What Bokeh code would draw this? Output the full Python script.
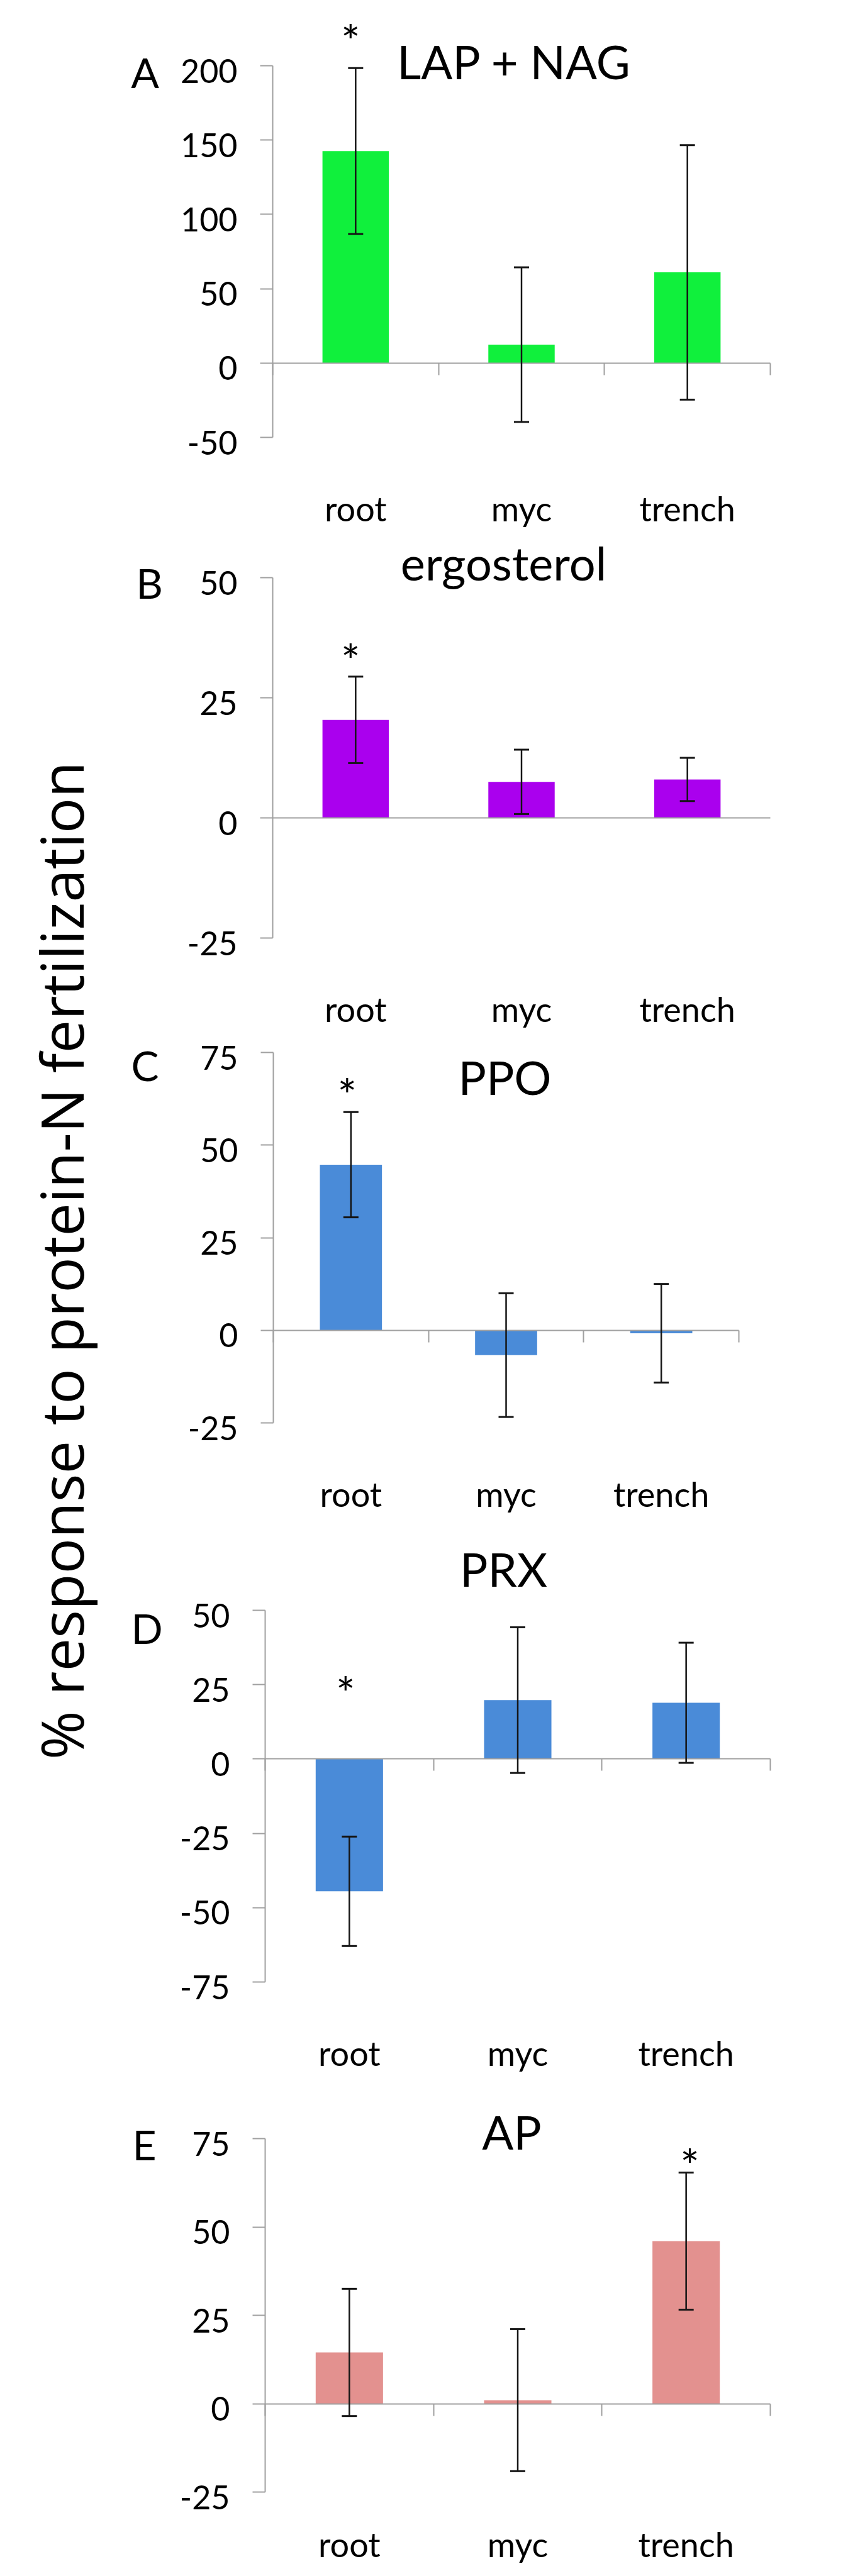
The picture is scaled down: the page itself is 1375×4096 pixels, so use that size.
import math
from bokeh.plotting import figure
from bokeh.models import (ColumnDataSource, Range1d, LinearAxis, FixedTicker,
                          Whisker, TeeHead, Label)
from bokeh.layouts import row, column
from bokeh.embed import file_html
from bokeh.resources import INLINE

# ---------------- data ----------------
categories = ["root", "myc", "trench"]
panel_letters = ["A", "B", "C", "D", "E"]
panel_titles = ["LAP + NAG", "ergosterol", "PPO", "PRX", "AP"]
y_label = "% response to protein-N fertilization"

lap_nag_mean = [142.6, 12.4, 61.0]
lap_nag_err = [55.8, 52.0, 85.6]
ergosterol_mean = [20.4, 7.5, 8.0]
ergosterol_err = [9.0, 6.7, 4.5]
ppo_mean = [44.7, -6.7, -0.8]
ppo_err = [14.2, 16.7, 13.3]
prx_mean = [-44.5, 19.8, 18.9]
prx_err = [18.4, 24.5, 20.2]
ap_mean = [14.5, 1.0, 46.0]
ap_err = [18.0, 20.1, 19.4]

lap_nag_ticks = [-50, 0, 50, 100, 150, 200]
ergosterol_ticks = [-25, 0, 25, 50]
ppo_ticks = [-25, 0, 25, 50, 75]
prx_ticks = [-75, -50, -25, 0, 25, 50]
ap_ticks = [-25, 0, 25, 50, 75]

# significance marker: (category index, height of the "*" in data units)
lap_nag_sig = (0, 228.6)
ergosterol_sig = (0, 36.4)
ppo_sig = (0, 68.3)
prx_sig = (0, 28.1)
ap_sig = (2, 72.5)

# ---------------- style / layout ----------------
AXIS_GRAY = "#a0a0a0"
TEXT_FONT = "Lato"
LABEL_W = 170
PANEL_W = 1189
TOTAL_H = 4080
TICK_LABEL_DROP = 8   # px: tick labels sit slightly below their ticks

panels = [
    dict(mean=lap_nag_mean, err=lap_nag_err, ticks=lap_nag_ticks, sig=lap_nag_sig,
         color="#10f03c", h=842, top=104, bottom=147, left=263, right=135,
         title_px=(384, 598), letter_px=(-203, 581), cat_ticks=True, star_dx=-8,
         cat_standoff=80),
    dict(mean=ergosterol_mean, err=ergosterol_err, ticks=ergosterol_ticks, sig=ergosterol_sig,
         color="#aa00ee", h=795, top=76, bottom=146, left=263, right=135,
         title_px=(367, 597), letter_px=(-196, 565), cat_ticks=False, star_dx=-8,
         cat_standoff=80),
    dict(mean=ppo_mean, err=ppo_err, ticks=ppo_ticks, sig=ppo_sig,
         color="#4a8bd8", h=795, top=36, bottom=170, left=264, right=185,
         title_px=(368, 550), letter_px=(-204, 569), cat_ticks=True, star_dx=-6,
         cat_standoff=80),
    dict(mean=prx_mean, err=prx_err, ticks=prx_ticks, sig=prx_sig,
         color="#4a8bd8", h=890, top=128, bottom=171, left=251, right=135,
         title_px=(379, 657), letter_px=(-188, 563), cat_ticks=True, star_dx=-6,
         cat_standoff=80),
    dict(mean=ap_mean, err=ap_err, ticks=ap_ticks, sig=ap_sig,
         color="#e3918f", h=758, top=78, bottom=118, left=251, right=135,
         title_px=(392, 573), letter_px=(-192, 553), cat_ticks=True, star_dx=6,
         cat_standoff=50),
]


def make_panel(i, spec):
    n = len(categories)
    xs = [k + 0.5 for k in range(n)]
    ymin, ymax = min(spec["ticks"]), max(spec["ticks"])
    # size in px of the region spanned by the axes
    fw = PANEL_W - spec["left"] - spec["right"]
    fh = spec["h"] - spec["top"] - spec["bottom"]
    xpp = n / fw                     # data units per px (x)
    ypp = (ymax - ymin) / fh         # data units per px (y)

    y0 = ymin - spec["bottom"] * ypp
    y1 = ymax + spec["top"] * ypp
    p = figure(width=PANEL_W, height=spec["h"],
               x_range=Range1d(-spec["left"] * xpp, n + spec["right"] * xpp),
               y_range=Range1d(y0, y1),
               x_axis_type=None, y_axis_type=None,
               toolbar_location=None, output_backend="svg", min_border=0)
    p.outline_line_color = None
    p.background_fill_color = "white"
    p.border_fill_color = "white"
    drop = TICK_LABEL_DROP * ypp
    p.extra_y_ranges = {"labels": Range1d(y0 + drop, y1 + drop)}

    # y axis line + ticks (drawn at x = 0, spanning ymin..ymax)
    yax = LinearAxis(ticker=FixedTicker(ticks=spec["ticks"]), fixed_location=0,
                     bounds=(ymin, ymax),
                     major_label_overrides={t: "" for t in spec["ticks"]})
    yax.axis_line_color = AXIS_GRAY
    yax.axis_line_width = 2
    yax.major_tick_line_color = AXIS_GRAY
    yax.major_tick_line_width = 2
    yax.major_tick_out = 20
    yax.major_tick_in = 0
    yax.minor_tick_line_color = None
    yax.major_label_text_font_size = "0px"
    p.add_layout(yax, "left")

    # y tick labels, a little below their ticks
    ylab = LinearAxis(ticker=FixedTicker(ticks=spec["ticks"]), fixed_location=0,
                      y_range_name="labels", bounds=(ymin, ymax),
                      major_label_overrides={t: str(t) for t in spec["ticks"]})
    ylab.axis_line_color = None
    ylab.major_tick_line_color = None
    ylab.minor_tick_line_color = None
    ylab.major_tick_out = 20
    ylab.major_tick_in = 0
    ylab.major_label_standoff = 36
    ylab.major_label_text_font = TEXT_FONT
    ylab.major_label_text_font_size = "52px"
    ylab.major_label_text_color = "black"
    p.add_layout(ylab, "left")

    # category labels below the lowest tick
    xax = LinearAxis(ticker=FixedTicker(ticks=xs), fixed_location=ymin,
                     bounds=(0, n),
                     major_label_overrides={x: c for x, c in zip(xs, categories)})
    xax.axis_line_color = None
    xax.major_tick_line_color = None
    xax.minor_tick_line_color = None
    xax.major_tick_out = 0
    xax.major_tick_in = 0
    xax.major_label_standoff = spec["cat_standoff"]
    xax.major_label_text_font = TEXT_FONT
    xax.major_label_text_font_size = "54px"
    xax.major_label_text_color = "black"
    p.add_layout(xax, "below")

    # zero line axis with category boundary ticks
    bounds = list(range(n + 1)) if spec["cat_ticks"] else []
    zax = LinearAxis(ticker=FixedTicker(ticks=bounds), fixed_location=0,
                     bounds=(0, n),
                     major_label_overrides={b: "" for b in bounds})
    zax.axis_line_color = AXIS_GRAY
    zax.axis_line_width = 2
    zax.major_tick_line_color = AXIS_GRAY
    zax.major_tick_line_width = 2
    zax.major_tick_out = 19
    zax.major_tick_in = 0
    zax.minor_tick_line_color = None
    zax.major_label_text_font_size = "0px"
    p.add_layout(zax, "below")

    src = ColumnDataSource(dict(
        x=xs, top=spec["mean"],
        upper=[m + e for m, e in zip(spec["mean"], spec["err"])],
        lower=[m - e for m, e in zip(spec["mean"], spec["err"])]))
    p.vbar(x="x", top="top", bottom=0, width=0.4, source=src,
           fill_color=spec["color"], line_color=None)

    wh = Whisker(source=src, base="x", upper="upper", lower="lower",
                 line_color="#151515", line_width=2.5, level="annotation",
                 upper_head=TeeHead(size=24, line_color="#151515", line_width=3),
                 lower_head=TeeHead(size=24, line_color="#151515", line_width=3))
    p.add_layout(wh)

    def to_data(px):
        return px[0] * xpp, ymin + px[1] * ypp

    tx, ty = to_data(spec["title_px"])
    p.add_layout(Label(x=tx, y=ty, text=panel_titles[i], text_font=TEXT_FONT,
                       text_font_size="74px", text_align="center",
                       text_baseline="middle", text_color="black"))
    lx, ly = to_data(spec["letter_px"])
    p.add_layout(Label(x=lx, y=ly, text=panel_letters[i], text_font=TEXT_FONT,
                       text_font_size="66px", text_align="center",
                       text_baseline="middle", text_color="black"))
    si, sy = spec["sig"]
    p.add_layout(Label(x=xs[si], y=sy, text="*", text_font=TEXT_FONT,
                       text_font_size="72px", text_align="center",
                       text_baseline="middle", text_color="black",
                       x_offset=spec["star_dx"], y_offset=-27))
    return p


figs = [make_panel(i, s) for i, s in enumerate(panels)]

lab = figure(width=LABEL_W, height=TOTAL_H, x_range=Range1d(0, LABEL_W),
             y_range=Range1d(0, TOTAL_H), x_axis_type=None, y_axis_type=None,
             toolbar_location=None, output_backend="svg", min_border=0)
lab.outline_line_color = None
lab.add_layout(Label(x=96, y=TOTAL_H - 2004, text=y_label, angle=90,
                     angle_units="deg", text_font="Open Sans",
                     text_font_size="94px", text_align="center",
                     text_baseline="middle", text_color="black"))

layout = row(lab, column(*figs, spacing=0), spacing=0)
open("out.html", "w").write(file_html(layout, INLINE))
